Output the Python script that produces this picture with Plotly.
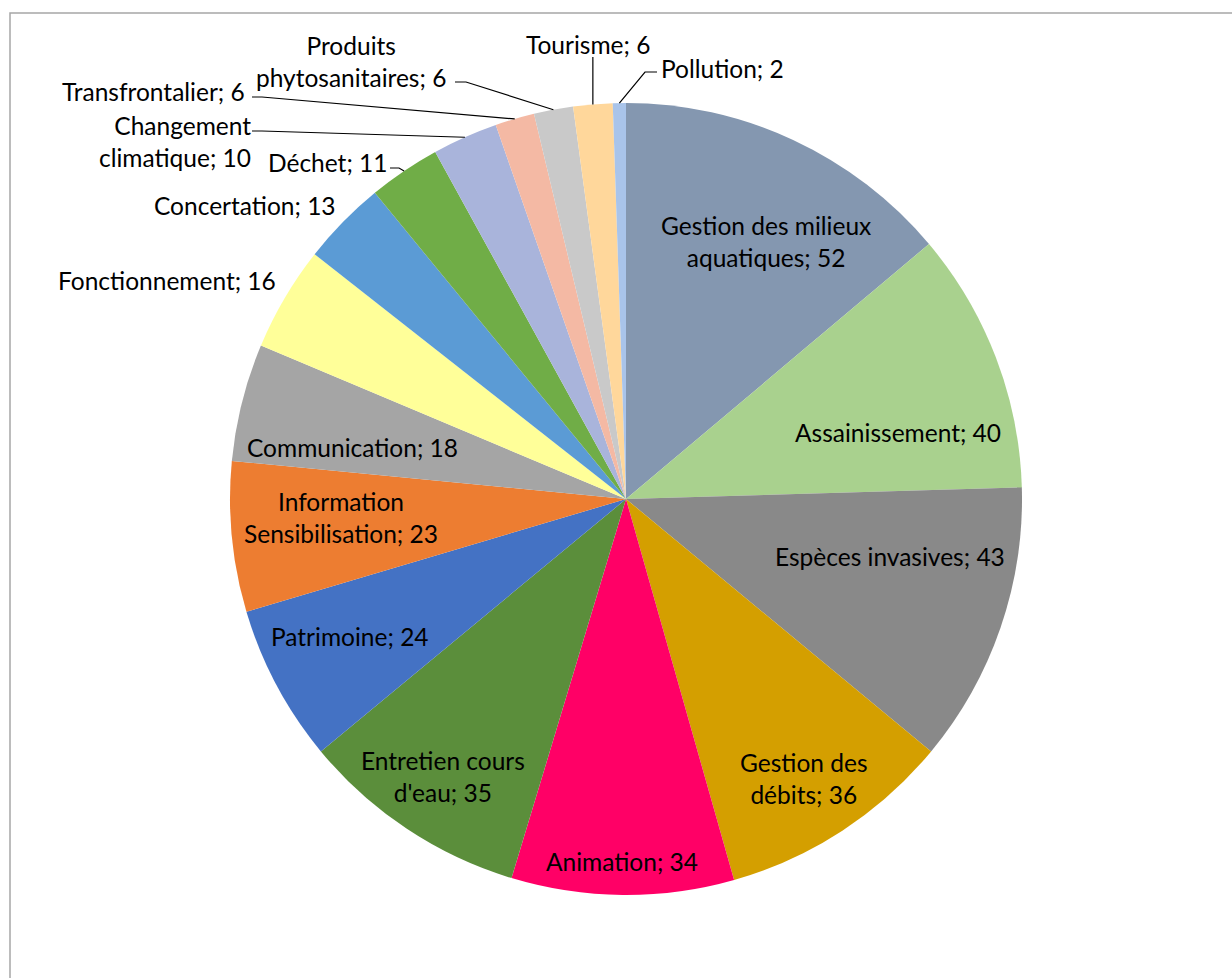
import math
import plotly.graph_objects as go

# ---- data ----
categories = ["Gestion des milieux aquatiques", "Assainissement", "Espèces invasives",
              "Gestion des débits", "Animation", "Entretien cours d'eau", "Patrimoine",
              "Information Sensibilisation", "Communication", "Fonctionnement",
              "Concertation", "Déchet", "Changement climatique", "Transfrontalier",
              "Produits phytosanitaires", "Tourisme", "Pollution"]
values = [52, 40, 43, 36, 34, 35, 24, 23, 18, 16, 13, 11, 10, 6, 6, 6, 2]
label_texts = ["Gestion des milieux<br>aquatiques; 52", "Assainissement; 40",
               "Espèces invasives; 43", "Gestion des<br>débits; 36", "Animation; 34",
               "Entretien cours<br>d'eau; 35", "Patrimoine; 24",
               "Information<br>Sensibilisation; 23", "Communication; 18",
               "Fonctionnement; 16", "Concertation; 13", "Déchet; 11",
               "Changement<br>climatique; 10", "Transfrontalier; 6",
               "Produits<br>phytosanitaires; 6", "Tourisme; 6", "Pollution; 2"]
colors = ["#8497B0", "#A9D18E", "#898989", "#D49F00", "#FF0066", "#5B8E3B", "#4472C4",
          "#ED7D31", "#A5A5A5", "#FFFF99", "#5B9BD5", "#70AD47", "#A9B4DB", "#F4B9A4",
          "#C9C9C9", "#FFD79B", "#A9C4EA"]

# ---- layout (pixels) ----
W, H = 1232, 978
CX, CY, R = 626, 499, 396
# label centre positions (x, y, anchor)
label_pos = [(766, 241, "center"), (898, 432, "center"), (890, 556, "center"),
             (804, 778, "center"), (622, 861, "center"), (443, 776, "center"),
             (350, 636, "center"), (341, 517, "center"), (352, 447, "center"),
             (167, 280, "center"), (245, 206, "center"), (328, 163, "center"),
             (253, 141, "right"), (153, 92, "center"), (351, 61, "center"),
             (588, 45, "center"), (722, 68, "center")]
# leader line start / elbow points for outside labels: index -> [(x,y),(x,y)]
leaders = {11: [(390, 168), (399, 168)],
           12: [(252, 131), (262, 131)],
           13: [(252, 97), (262, 97)],
           14: [(455, 82), (466, 82)],
           15: [(None, 57)],
           16: [(657, 72), (645, 72)]}


def px(x, y):
    return x / W, 1 - y / H


fig = go.Figure(go.Pie(
    labels=categories, values=values, sort=False, direction="clockwise", rotation=0,
    marker=dict(colors=colors, line=dict(width=0)), textinfo="none", hoverinfo="label+value",
    domain=dict(x=[(CX - R) / W, (CX + R) / W], y=[1 - (CY + R) / H, 1 - (CY - R) / H]),
    showlegend=False))

FONT = dict(family="Lato, Carlito, Calibri, sans-serif", size=24.5, color="#000000")

annotations = []
for txt, (x, y, anc) in zip(label_texts, label_pos):
    xp, yp = px(x, y)
    annotations.append(dict(x=xp, y=yp, xref="paper", yref="paper", text=txt,
                            showarrow=False, xanchor=anc, yanchor="middle",
                            align=anc if anc != "center" else "center", font=FONT))

shapes = []
total = sum(values)
cum = 0
mids = []
for v in values:
    mids.append((cum + v / 2) / total * 2 * math.pi)
    cum += v
for i, pts in leaders.items():
    a = mids[i]
    ex, ey = CX + R * math.sin(a), CY - R * math.cos(a)
    path_pts = []
    for (x, y) in pts:
        path_pts.append((ex if x is None else x, y))
    path_pts.append((ex, ey))
    d = "M " + " L ".join(f"{px(x, y)[0]:.5f},{px(x, y)[1]:.5f}" for x, y in path_pts)
    shapes.append(dict(type="path", path=d, xref="paper", yref="paper",
                       line=dict(color="#000000", width=1.2)))

# chart border
shapes.append(dict(type="rect", xref="paper", yref="paper",
                   x0=10 / W, y0=-0.05, x1=1.05, y1=1 - 13 / H,
                   line=dict(color="#A6A6A6", width=1.5)))

fig.update_layout(width=W, height=H, margin=dict(l=0, r=0, t=0, b=0),
                  paper_bgcolor="white", plot_bgcolor="white",
                  annotations=annotations, shapes=shapes)

fig.write_html("out.html", config={"displayModeBar": False},
               post_script="document.body.style.margin='0px';document.body.style.overflow='hidden';")
